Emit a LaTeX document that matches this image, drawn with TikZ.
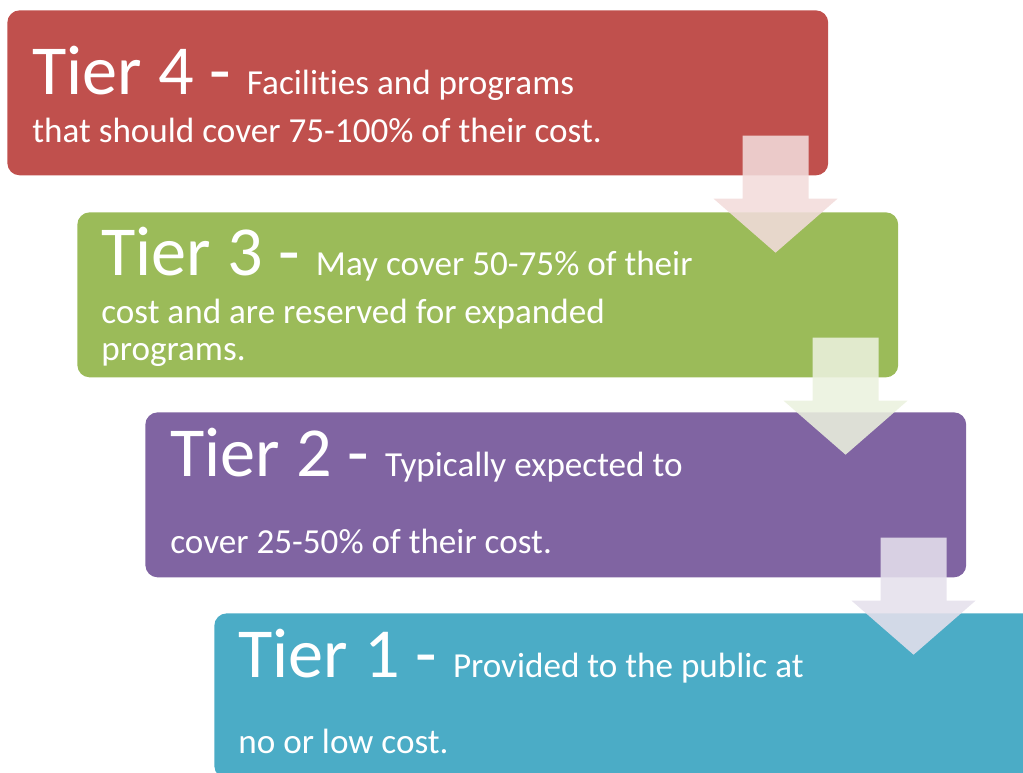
\documentclass[tikz,border=0pt]{standalone}
\usepackage{fontspec}
\setmainfont{Carlito}[Ligatures=NoCommon]
\definecolor{tierred}{HTML}{C0504D}
\definecolor{tiergreen}{HTML}{9BBB59}
\definecolor{tierpurple}{HTML}{8064A2}
\definecolor{tierteal}{HTML}{4BACC6}
\definecolor{shadered}{HTML}{F2DCDB}
\definecolor{shadegreen}{HTML}{EBF1DE}
\definecolor{shadepurple}{HTML}{E5E0EC}
\newcommand{\bigtier}{\fontsize{40}{44}\selectfont}
\newcommand{\smalltier}{\fontsize{20}{24}\selectfont}
\tikzset{
  tierbox/.style={rounded corners=7pt, minimum width=16.42cm, minimum height=3.3cm,
    anchor=north west, inner sep=0pt},
  tiertext/.style={anchor=base west, inner sep=0pt, text=white, font=\smalltier},
  tierarrow/.pic={
    \fill[pic actions] (-86,-40) -- (-20,-40) -- (-20,23) -- (9,23) -- (-53,77)
      -- (-115,23) -- (-86,23) -- cycle;
  }
}
\begin{document}
\begin{tikzpicture}[x=0.02cm,y=-0.02cm]
  \useasboundingbox (0,0) rectangle (1023,772);
  \clip (0,0) rectangle (1023,772);
  % tier boxes
  \node[tierbox, fill=tierred] (tier4) at (7,10) {};
  \node[tierbox, fill=tiergreen] (tier3) at (77,212) {};
  \node[tierbox, fill=tierpurple] (tier2) at (145,412) {};
  \node[tierbox, fill=tierteal] (tier1) at (214,613) {};
  % texts
  \node[tiertext] (t4a) at (32,94) {{\bigtier Tier 4 - }Facilities and programs};
  \node[tiertext] (t4b) at (32,142) {that should cover 75-100\% of their cost.};
  \node[tiertext] (t3a) at (101,275) {{\bigtier Tier 3 - }May cover 50-75\% of their};
  \node[tiertext] (t3b) at (101,323) {cost and are reserved for expanded};
  \node[tiertext] (t3c) at (101,360) {programs.};
  \node[tiertext] (t2a) at (170,476) {{\bigtier Tier 2 - }Typically expected to};
  \node[tiertext] (t2b) at (170,553) {cover 25-50\% of their cost.};
  \node[tiertext] (t1a) at (238,677) {{\bigtier Tier 1 - }Provided to the public at};
  \node[tiertext] (t1b) at (238,753) {no or low cost.};
  % arrows
  \pic[fill=shadered, fill opacity=0.88] at (tier4.south east) {tierarrow};
  \pic[fill=shadegreen, fill opacity=0.88] at (tier3.south east) {tierarrow};
  \pic[fill=shadepurple, fill opacity=0.88] at (tier2.south east) {tierarrow};
\end{tikzpicture}
\end{document}
